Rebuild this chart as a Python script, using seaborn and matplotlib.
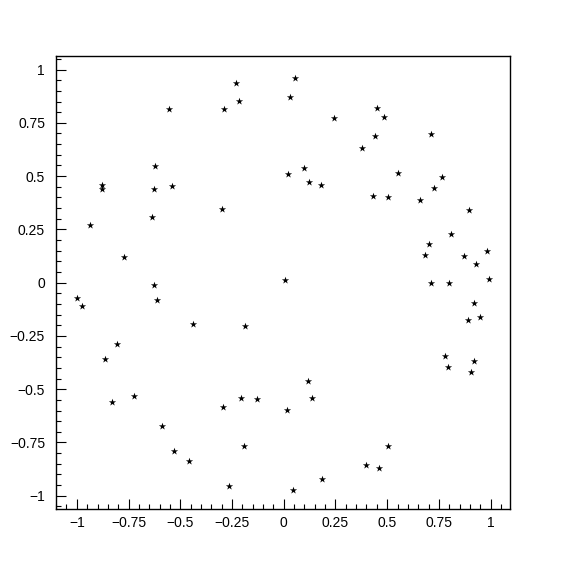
import numpy as np
import pandas as pd
import matplotlib

matplotlib.use('Agg')
import matplotlib.pyplot as plt
from matplotlib.ticker import MultipleLocator
import seaborn as sns

# point coordinates
x_vals = [-0.232, -0.216, -0.553, -0.287, 0.032, -0.623, -0.879, -0.879, -0.625, -0.538,
          -0.300, -0.635, -0.936, -0.771, 0.021, 0.008, -0.625,
          0.055, 0.449, 0.485, 0.243, 0.441, 0.713, 0.380, 0.098, 0.554,
          0.121, 0.182, 0.766, 0.726, 0.431, 0.504, 0.660, 0.897, 0.808, 0.700,
          0.684, 0.873, 0.984, 0.931, 0.993, 0.710, 0.800,
          -0.999, -0.973, -0.611, -0.440, -0.185, -0.805, -0.862, -0.828, -0.722,
          -0.295, -0.208, -0.130, 0.014, -0.588, -0.531, -0.456, -0.190, -0.264,
          0.921, 0.948, 0.892, 0.781, 0.794, 0.921, 0.906, 0.116, 0.138,
          0.505, 0.398, 0.459, 0.186, 0.046]
y_vals = [0.937, 0.854, 0.817, 0.815, 0.873, 0.546, 0.457, 0.438, 0.441, 0.454,
          0.347, 0.310, 0.272, 0.122, 0.508, 0.011, -0.009,
          0.962, 0.820, 0.779, 0.775, 0.690, 0.698, 0.634, 0.540, 0.515,
          0.474, 0.460, 0.498, 0.443, 0.408, 0.402, 0.388, 0.343, 0.227, 0.180,
          0.131, 0.127, 0.150, 0.089, 0.019, 0.000, 0.000,
          -0.074, -0.110, -0.082, -0.196, -0.202, -0.290, -0.359, -0.559, -0.534,
          -0.584, -0.543, -0.548, -0.596, -0.675, -0.789, -0.838, -0.765, -0.952,
          -0.096, -0.160, -0.175, -0.345, -0.396, -0.369, -0.421, -0.463, -0.540,
          -0.767, -0.858, -0.870, -0.922, -0.972]

tick_vals = [-1, -0.75, -0.5, -0.25, 0, 0.25, 0.5, 0.75, 1]
tick_labels = ['\u22121', '\u22120.75', '\u22120.5', '\u22120.25', '0', '0.25', '0.5', '0.75', '1']

df = pd.DataFrame({'x': x_vals, 'y': y_vals})

sns.set_style('white')
plt.rcParams['font.family'] = ['Liberation Sans', 'DejaVu Sans']

fig = plt.figure(figsize=(5.67, 5.67), dpi=100)
ax = fig.add_axes([0.099, 0.102, 0.801, 0.799])

sns.scatterplot(data=df, x='x', y='y', marker='*', color='black', s=30,
                linewidth=0, ax=ax)

ax.set_xlim(-1.1, 1.095)
ax.set_ylim(-1.063, 1.063)
ax.set_xticks(tick_vals)
ax.set_xticklabels(tick_labels)
ax.set_yticks(tick_vals)
ax.set_yticklabels(tick_labels)
ax.xaxis.set_minor_locator(MultipleLocator(0.05))
ax.yaxis.set_minor_locator(MultipleLocator(0.05))
ax.set_xlabel('')
ax.set_ylabel('')

ax.tick_params(which='both', direction='in', top=False, right=False,
               left=True, bottom=True, colors='black', width=0.8, labelsize=10)
ax.tick_params(which='major', length=7)
ax.tick_params(which='minor', length=3.5)
ax.tick_params(axis='y', which='major', pad=8)
ax.tick_params(axis='x', which='major', pad=5)

for sp in ax.spines.values():
    sp.set_visible(True)
    sp.set_color('black')
    sp.set_linewidth(1.0)

fig.savefig('out.png', dpi=100, facecolor='white')
